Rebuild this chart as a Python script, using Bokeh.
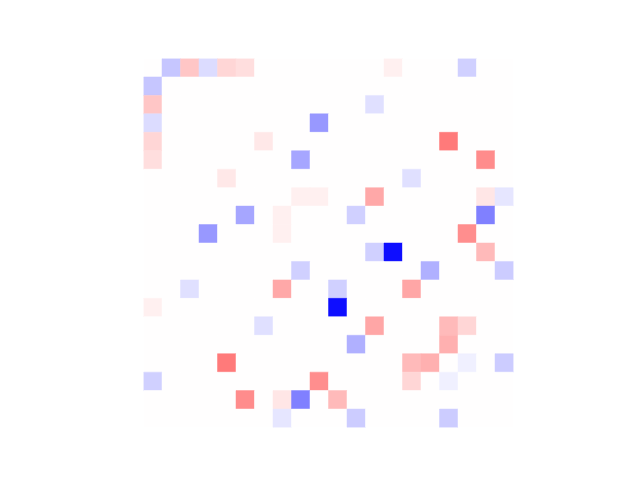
from bokeh.plotting import figure
from bokeh.models import ColumnDataSource, LinearColorMapper
from bokeh.transform import transform
from bokeh.embed import file_html
from bokeh.resources import INLINE

N = 20
matrix = [
    [0, -0.22, 0.22, -0.14, 0.16, 0.13, 0, 0, 0, 0, 0, 0, 0, 0.06, 0, 0, 0, -0.18, 0, 0],
    [-0.22, 0, 0, 0, 0, 0, 0, 0, 0, 0, 0, 0, 0, 0, 0, 0, 0, 0, 0, 0],
    [0.22, 0, 0, 0, 0, 0, 0, 0, 0, 0, 0, 0, -0.12, 0, 0, 0, 0, 0, 0, 0],
    [-0.14, 0, 0, 0, 0, 0, 0, 0, 0, -0.40, 0, 0, 0, 0, 0, 0, 0, 0, 0, 0],
    [0.16, 0, 0, 0, 0, 0, 0.09, 0, 0, 0, 0, 0, 0, 0, 0, 0, 0.52, 0, 0, 0],
    [0.13, 0, 0, 0, 0, 0, 0, 0, -0.35, 0, 0, 0, 0, 0, 0, 0, 0, 0, 0.45, 0],
    [0, 0, 0, 0, 0.09, 0, 0, 0, 0, 0, 0, 0, 0, 0, -0.12, 0, 0, 0, 0, 0],
    [0, 0, 0, 0, 0, 0, 0, 0, 0.06, 0.06, 0, 0, 0.34, 0, 0, 0, 0, 0, 0.10, -0.10],
    [0, 0, 0, 0, 0, -0.35, 0, 0.06, 0, 0, 0, -0.18, 0, 0, 0, 0, 0, 0, -0.50, 0],
    [0, 0, 0, -0.40, 0, 0, 0, 0.06, 0, 0, 0, 0, 0, 0, 0, 0, 0, 0.44, 0, 0],
    [0, 0, 0, 0, 0, 0, 0, 0, 0, 0, 0, 0, -0.18, -0.94, 0, 0, 0, 0, 0.27, 0],
    [0, 0, 0, 0, 0, 0, 0, 0, -0.18, 0, 0, 0, 0, 0, 0, -0.31, 0, 0, 0, -0.20],
    [0, 0, -0.12, 0, 0, 0, 0, 0.34, 0, 0, -0.18, 0, 0, 0, 0.35, 0, 0, 0, 0, 0],
    [0.06, 0, 0, 0, 0, 0, 0, 0, 0, 0, -0.94, 0, 0, 0, 0, 0, 0, 0, 0, 0],
    [0, 0, 0, 0, 0, 0, -0.12, 0, 0, 0, 0, 0, 0.35, 0, 0, 0, 0.27, 0.16, 0, 0],
    [0, 0, 0, 0, 0, 0, 0, 0, 0, 0, 0, -0.31, 0, 0, 0, 0, 0.31, 0, 0, 0],
    [0, 0, 0, 0, 0.52, 0, 0, 0, 0, 0, 0, 0, 0, 0, 0.27, 0.31, 0, -0.06, 0, -0.20],
    [-0.18, 0, 0, 0, 0, 0, 0, 0, 0, 0.44, 0, 0, 0, 0, 0.16, 0, -0.06, 0, 0, 0],
    [0, 0, 0, 0, 0, 0.45, 0, 0.10, -0.50, 0, 0.27, 0, 0, 0, 0, 0, 0, 0, 0, 0],
    [0, 0, 0, 0, 0, 0, 0, -0.10, 0, 0, 0, -0.20, 0, 0, 0, 0, -0.20, 0, 0, 0],
]

# bwr colormap (256 levels)
palette = []
for i in range(256):
    t = i / 255
    if t <= 0.5:
        r = g = 2 * t
        b = 1.0
    else:
        r = 1.0
        g = b = 2 * (1 - t)
    palette.append("#%02x%02x%02x" % (round(r * 255), round(g * 255), round(b * 255)))

xs, ys, vals = [], [], []
for i in range(N):
    for j in range(N):
        xs.append(j + 0.5)
        ys.append(i + 0.5)
        vals.append(matrix[i][j])
source = ColumnDataSource(dict(x=xs, y=ys, v=vals))
mapper = LinearColorMapper(palette=palette, low=-1, high=1)

p = figure(width=640, height=480, x_range=(0, N), y_range=(N, 0),
           output_backend="svg", toolbar_location=None,
           min_border_left=143, min_border_right=127,
           min_border_top=58, min_border_bottom=53)
p.rect(x="x", y="y", width=1, height=1, source=source,
       fill_color=transform("v", mapper), line_color=transform("v", mapper),
       line_width=0.5)
p.xaxis.visible = False
p.yaxis.visible = False
p.grid.visible = False
p.outline_line_color = None
p.background_fill_color = "white"
p.border_fill_color = "white"

open("out.html", "w").write(file_html(p, INLINE))
